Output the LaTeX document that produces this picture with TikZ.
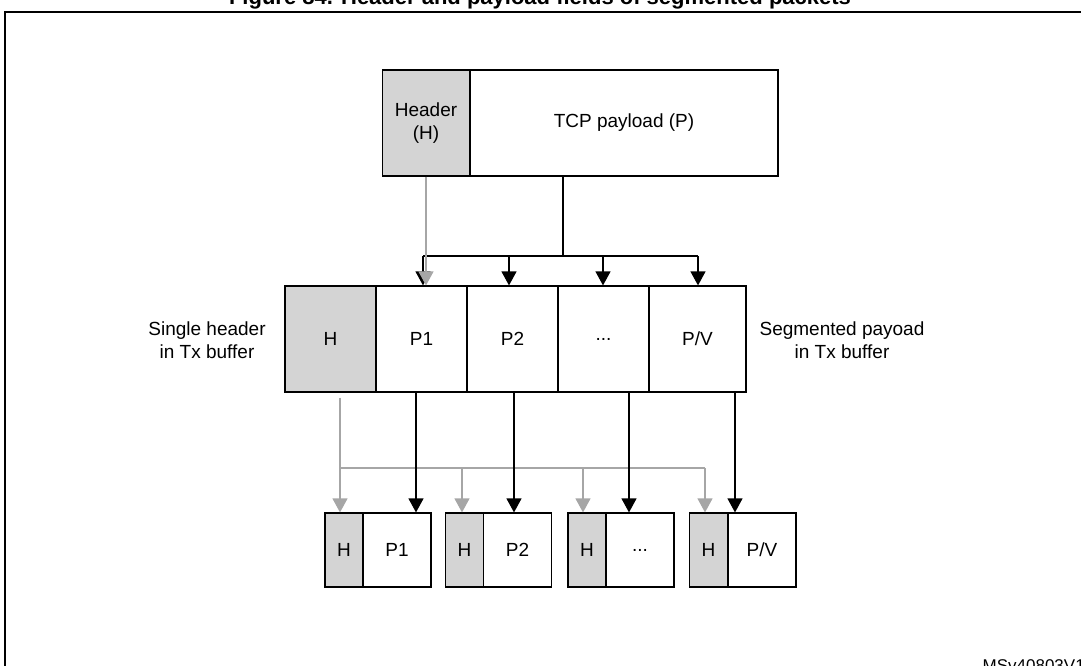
\documentclass[tikz,border=0pt]{standalone}
\usepackage{fontspec}
\setmainfont{Liberation Sans}
\usetikzlibrary{arrows.meta,positioning}

\begin{document}
\begin{tikzpicture}[x=0.5pt,y=-0.5pt,
  font=\fontsize{9.5}{11.5}\selectfont,semithick,
  hdr node/.style={rectangle,draw,fill=black!17,minimum height=53pt,inner sep=0pt},
  pl node/.style={rectangle,draw,fill=white,minimum height=53pt,inner sep=0pt},
  small hdr/.style={rectangle,draw,fill=black!17,minimum height=37pt,minimum width=19pt,inner sep=0pt},
  small pl/.style={rectangle,draw,fill=white,minimum height=37pt,minimum width=34pt,inner sep=0pt},
  blk/.style={-{Triangle[length=7pt,width=7.5pt]}},
  gry/.style={-{Triangle[length=7pt,width=7.5pt]},draw=black!35}]

  \clip (0,0) rectangle (1081,665);
  \useasboundingbox (0,0) rectangle (1081,665);

  % title and frame
  \node[font=\bfseries\fontsize{11}{13}\selectfont] (title) at (540,-1) {Figure 84. Header and payload fields of segmented packets};
  \draw[line width=1.1pt] (5,690) -- (5,12) -- (1100,12);

  % top packet
  \node[hdr node,minimum width=43.5pt,align=center] (hdr) at (426,123) {Header\\(H)};
  \node[pl node,minimum width=154pt] (tcp) at (624,123) {TCP payload (P)};

  % Tx buffer
  \node[hdr node,minimum width=45.5pt] (bh) at (330.5,339) {H};
  \node[pl node,minimum width=45.5pt] (b1) at (421.5,339) {P1};
  \node[pl node,minimum width=45.5pt] (b2) at (512.5,339) {P2};
  \node[pl node,minimum width=45.5pt] (b3) at (603.5,339) {...};
  \node[pl node,minimum width=48.5pt] (b4) at (697.5,339) {P/V};
  \node[align=center] (lsingle) at (207,340) {Single header\\in Tx buffer};
  \node[align=center] (lseg) at (842,340) {Segmented payoad\\in Tx buffer};

  % segmented packets
  \node[small hdr] (h1) at (344,550) {H};
  \node[small pl] (p1) at (397,550) {P1};
  \node[small hdr] (h2) at (464.5,550) {H};
  \node[small pl] (p2) at (517.5,550) {P2};
  \node[small hdr] (h3) at (587,550) {H};
  \node[small pl] (p3) at (640,550) {...};
  \node[small hdr] (h4) at (708.5,550) {H};
  \node[small pl] (p4) at (762,550) {P/V};

  \coordinate (split) at (563,256);
  \coordinate (hsplit) at (340,468);

  % payload split
  \draw (tcp.south -| split) -- (split);
  \draw (423,256) -- (698,256);
  \foreach \x/\b in {423/b1,509/b2,603/b3,698/b4}
    \draw[blk] (\x,256) -- (\x,0 |- \b.north);
  \draw[gry] (hdr.south) -- (hdr.south |- bh.north);

  % header copies
  \draw[draw=black!35] (bh.south -| hsplit) ++(0,5) -- (hsplit) -- (705,468);
  \foreach \x/\h in {340/h1,462/h2,583/h3,705/h4}
    \draw[gry] (\x,468) -- (\x,0 |- \h.north);
  \foreach \x/\b/\p in {416/b1/p1,514/b2/p2,629/b3/p3,735/b4/p4}
    \draw[blk] (\x,0 |- \b.south) -- (\x,0 |- \p.north);

  \node[anchor=north east,font=\fontsize{8.5}{10}\selectfont] (ref) at (1092,652) {MSv40803V1};
\end{tikzpicture}
\end{document}
